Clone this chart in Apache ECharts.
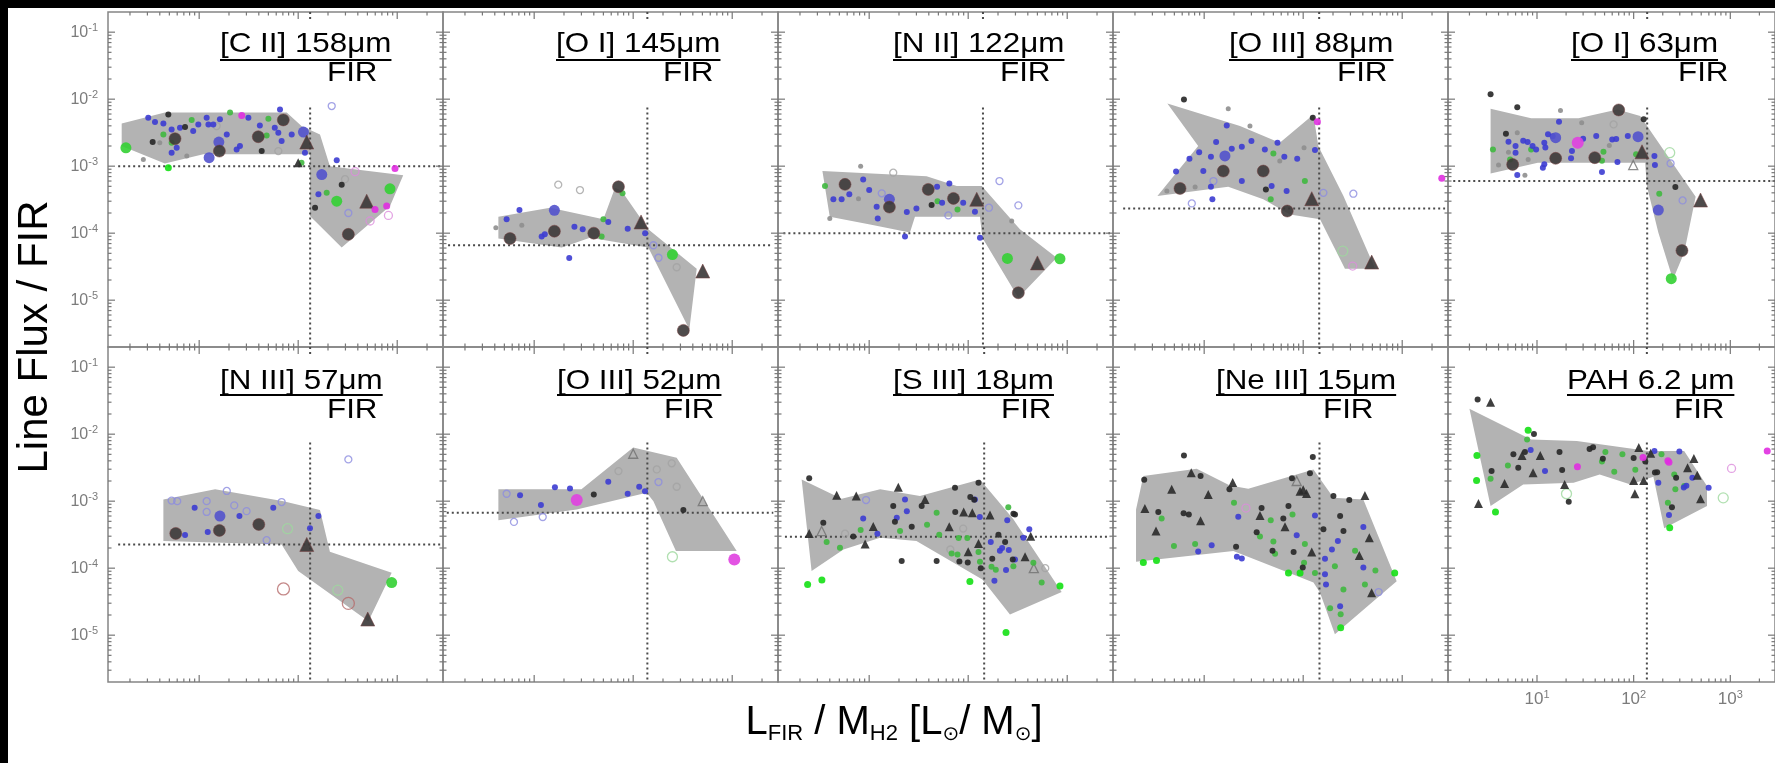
<!DOCTYPE html>
<html><head><meta charset="utf-8">
<script src="https://cdn.jsdelivr.net/npm/echarts@6/dist/echarts.min.js"></script>
<style>
html,body{margin:0;padding:0;background:#000;width:1775px;height:763px;overflow:hidden}
#paper{position:absolute;left:8px;top:8px;width:1767px;height:755px;background:#fff}
#chart{position:absolute;left:0;top:0;width:1775px;height:763px}
</style></head><body><div id="paper"></div><div id="chart"></div>
<script>
// ---------------- DATA ----------------
const panelTitles = ['[C II] 158μm','[O I] 145μm','[N II] 122μm','[O III] 88μm','[O I] 63μm',
                     '[N III] 57μm','[O III] 52μm','[S III] 18μm','[Ne III] 15μm','PAH 6.2 μm'];
const denomLabel = 'FIR';
const xTickValues = [10, 100, 1000];
const yTickValues = [1e-5, 1e-4, 1e-3, 1e-2, 1e-1];
const X_MIN = 1.2, X_MAX = 2900, Y_MIN = 2e-6, Y_MAX = 0.2;

// reference (dotted) lines: vertical x, horizontal y and its x-extent
const refX = [132, 139, 141, 145, 138, 132, 139, 145, 146, 137];
const refVTop = 7.5e-3, refVTopStub = [0.2, 0.145];
const refY = [1e-3, 6.6e-5, 1.0e-4, 2.34e-4, 6.0e-4, 2.26e-4, 6.7e-4, 2.94e-4, null, null];
const refYFrom = [1.52, 1.35, 1.36, 1.52, 1.36, 1.52, 1.31, 1.41, null, null];
const refYTo = [2900, 2580, 2710, 2710, 2900, 2900, 2600, 2710, null, null];

// shaded regions (polygon vertices [x, y])
const ciiShade = [[1.65,4.35e-3],[4.5,6.3e-3],[76.6,6.3e-3],[108,3.96e-3],[166,2.98e-3],[209,1.0e-3],[1150,7.3e-4],[846,2.54e-4],[275,6.1e-5],[131.5,1.8e-4],[131.5,1.5e-3],[11,1.5e-3],[4.5,1.1e-3],[1.65,2.0e-3]];
const oi145Shade = [[4.35,1.76e-4],[14.5,2.4e-4],[50,1.61e-4],[65.5,4.77e-4],[76.5,4.25e-4],[142,1.14e-4],[438,2.94e-5],[369,3.66e-6],[142,6.1e-5],[36.6,8.55e-5],[19,6.1e-5],[4.35,8.3e-5]];
const nii122Shade = [[3.37,8.45e-4],[38,7.1e-4],[76.5,5.05e-4],[137,5.05e-4],[333,1.14e-4],[783,4.3e-5],[321,1.09e-5],[139,8.55e-5],[131.5,1.76e-4],[29,1.76e-4],[25.8,1.02e-4],[10.2,1.35e-4],[4.0,1.76e-4]];
const oiii88Shade = [[4.25,8.65e-3],[23,3.97e-3],[58,2.24e-3],[127,5.9e-3],[142,2.0e-3],[255,3.58e-4],[532,2.94e-5],[264,2.94e-5],[148,1.61e-4],[73.6,1.9e-4],[39.5,3.2e-4],[17.5,4.93e-4],[3.37,3.58e-4],[8.7,2.0e-3]];
const oi63Shade = [[3.31,7.2e-3],[8.7,5.2e-3],[26.9,5.2e-3],[68,7.0e-3],[117,5.6e-3],[438,3.5e-4],[333,5.1e-5],[255,2.04e-5],[180,1.02e-4],[137,5.05e-4],[131.5,1.12e-3],[10.2,1.12e-3],[3.31,7.8e-4]];
const niii57Shade = [[4.35,1.06e-3],[14.5,1.5e-3],[71,1.0e-3],[166,7.4e-4],[209,1.76e-4],[879,8.55e-5],[512,1.62e-5],[100,9.06e-5],[68,2.26e-4],[4.35,2.54e-4]];
const oiii52Shade = [[4.35,1.5e-3],[30,1.5e-3],[100,6.3e-3],[275,4.45e-3],[1110,1.8e-4],[270,1.8e-4],[160,1.0e-3],[137,1.34e-3],[26.9,7.5e-4],[4.35,5.2e-4]];
const siii18Shade = [[2.08,2.11e-3],[5.27,1.09e-3],[12.9,1.5e-3],[32.6,1.19e-3],[131.5,2.11e-3],[286,5.35e-4],[879,4.4e-5],[264,2.04e-5],[139,6.8e-5],[30,2.54e-4],[12.9,2.84e-4],[5.5,1.9e-4],[2.62,9.06e-5]];
const neiii15Shade = [[2.05,7.5e-4],[2.43,2.37e-3],[8.4,3.05e-3],[18.2,1.72e-3],[27.9,1.53e-3],[127,2.98e-3],[202,1.12e-3],[405,1.06e-3],[879,6.4e-5],[209,1.03e-5],[148,4.3e-5],[127,6.1e-5],[19.7,1.8e-4],[2.05,1.25e-4]];
const pah62Shade = [[2.0,2.4e-2],[8.7,8.35e-3],[25.8,7.9e-3],[142,5.6e-3],[333,5.6e-3],[574,1.68e-3],[574,8.45e-4],[207,3.93e-4],[160,2.32e-3],[93,1.78e-3],[44.5,2.51e-3],[23.9,1.88e-3],[7.2,1.78e-3],[3.31,8.45e-4]];

// galaxies [x, y, sample-group]
const ciiPoints = [[1.82,1.88e-3,'G'],[4.88,9.5e-4,'h'],[4.35,2.98e-3,'g'],[8.4,4.9e-3,'g'],[5.27,2.24e-3,'g'],[20.5,6.3e-3,'g'],[50,5.1e-3,'g'],[48,2.88e-3,'g'],[108,1.12e-3,'g'],[245,3.0e-4,'G'],[194,4.0e-4,'g'],[845,4.6e-4,'G'],
[3.06,5.3e-3,'b'],[3.58,4.55e-3,'b'],[4.35,4.35e-3,'b'],[5.27,3.54e-3,'b'],[6.4,3.75e-3,'b'],[5.27,1.59e-3,'b'],[5.93,1.88e-3,'b'],[8.7,3.34e-3,'b'],[9.8,4.2e-3,'b'],[11.9,5.3e-3,'b'],[12.4,4.2e-3,'b'],[13.9,4.2e-3,'b'],[16.2,5.0e-3,'b'],[19,2.98e-3,'b'],[12.6,1.34e-3,'B'],[23.9,1.78e-3,'b'],[25.8,2.0e-3,'b'],[31.4,5.3e-3,'b'],[41,4.06e-3,'b'],[58,3.75e-3,'b'],[63,3.15e-3,'b'],[65.5,7.0e-3,'b'],[68,2.37e-3,'b'],[86,2.98e-3,'b'],[117,1.59e-3,'b'],[15.8,2.29e-3,'B'],[113,3.23e-3,'B'],[173,7.5e-4,'B'],[245,1.23e-3,'b'],[160,3.8e-4,'b'],[218,7.9e-3,'ob'],
[3.39,2.29e-3,'k'],[4.88,5.9e-3,'k'],[5.7,2.57e-3,'K'],[7.2,3.84e-3,'k'],[16,1.68e-3,'K'],[39.5,2.75e-3,'K'],[70.7,4.9e-3,'K'],[42.8,1.68e-3,'k'],[275,5.3e-4,'k'],[148,2.4e-4,'k'],[321,9.6e-5,'K'],
[122,2.29e-3,'T'],[100,1.12e-3,'t'],[492,3.0e-4,'T'],
[2.73,1.26e-3,'e'],[7.5,1.42e-3,'e'],[4.0,2.24e-3,'e'],[63,1.68e-3,'og'],[15,3.97e-3,'og'],[297,6.4e-4,'og'],
[950,9.2e-4,'m'],[597,2.26e-4,'m'],[783,2.54e-4,'m'],[26.9,5.7e-3,'m'],[375,8.3e-4,'om'],[532,1.52e-4,'om'],[815,1.84e-4,'om'],[321,2.0e-4,'ob']];
const oi145Points = [[5.7,8.3e-5,'K'],[16,1.07e-4,'K'],[40,1.0e-4,'K'],[71,4.93e-4,'K'],[321,3.54e-6,'K'],[120,1.47e-4,'T'],[504,2.72e-5,'T'],[16,2.19e-4,'B'],[5.27,1.61e-4,'b'],[7.1,2.21e-4,'b'],[11.9,8.9e-5,'b'],[12.8,9.6e-5,'b'],[25.5,1.25e-4,'b'],[30.9,1.14e-4,'b'],[56,1.47e-4,'b'],[88,1.16e-4,'b'],[132,1.0e-4,'b'],[22.6,4.25e-5,'b'],[50,1.61e-4,'g'],[48,8.9e-5,'g'],[78,3.93e-4,'g'],[249,4.8e-5,'G'],[7.5,1.31e-4,'e'],[4.1,1.2e-4,'e'],[17.5,5.3e-4,'og'],[29,4.4e-4,'og'],[180,4.3e-5,'ob'],[275,3.1e-5,'og'],[160,6.6e-5,'ob']];
const nii122Points = [[39.5,4.5e-4,'K'],[16,2.45e-4,'K'],[71,3.3e-4,'K'],[321,1.29e-5,'K'],[122,3.2e-4,'T'],[500,3.6e-5,'T'],[249,4.2e-5,'G'],[845,4.15e-5,'G'],[49,3.0e-4,'g'],[78,2.26e-4,'g'],[16,3.2e-4,'B'],[23,8.9e-5,'b'],[24,2.07e-4,'b'],[30,2.34e-4,'b'],[48.5,4.93e-4,'b'],[54.5,2.84e-4,'b'],[64.5,5.5e-4,'b'],[89,2.84e-4,'b'],[117,2.09e-4,'b'],[131.5,8.55e-5,'b'],[42.7,2.63e-4,'k'],[275,1.52e-4,'e'],[207,6.0e-4,'ob'],[321,2.6e-4,'ob'],[162,2.4e-4,'ob'],[63,1.84e-4,'ob'],[17.5,8.0e-4,'og'],[3.58,5.05e-4,'g'],[5.7,5.35e-4,'K'],[8.2,1.0e-3,'e'],[8.7,6.35e-4,'b'],[4.35,3.2e-4,'b'],[5.27,3.2e-4,'b'],[6.3,3.8e-4,'b'],[10,4.4e-4,'b'],[11.9,2.48e-4,'b'],[12.2,1.66e-4,'b'],[4.0,1.66e-4,'e'],[7.8,3.27e-4,'e'],[13.4,3.93e-4,'ob']];
const oiii88Points = [[6.25,9.9e-3,'k'],[17.5,7.2e-3,'e'],[29,3.97e-3,'e'],[125,5.3e-3,'k'],[139,4.6e-3,'m'],[5.7,4.66e-4,'K'],[15.6,8.45e-4,'K'],[39.5,8.45e-4,'K'],[69,2.14e-4,'K'],[122,3.27e-4,'T'],[16.2,1.42e-3,'B'],[5.2,8.3e-4,'b'],[7.1,1.29e-3,'b'],[8.9,1.62e-3,'b'],[11.7,1.38e-3,'b'],[13.2,2.29e-3,'b'],[16.9,4.06e-3,'b'],[9.8,8.5e-4,'b'],[11.7,4.93e-4,'b'],[12.1,3.2e-4,'b'],[19,1.82e-3,'b'],[24,1.95e-3,'b'],[30,2.37e-3,'b'],[24,6.0e-4,'b'],[41,1.78e-3,'b'],[55,2.24e-3,'b'],[48,5.05e-4,'b'],[64.5,1.38e-3,'b'],[68,4.25e-4,'b'],[87,1.29e-3,'b'],[131.5,1.74e-3,'b'],[50,1.55e-3,'g'],[104,6.0e-4,'g'],[47,3.2e-4,'g'],[42,4.5e-4,'k'],[8.1,4.9e-4,'e'],[4.2,4.25e-4,'e'],[102,1.88e-3,'e'],[58,1.19e-3,'e'],[12.4,6.0e-4,'ob'],[7.5,2.78e-4,'ob'],[492,3.7e-5,'T'],[316,3.23e-5,'om'],[251,5.4e-5,'oG'],[321,3.88e-4,'ob'],[160,4.0e-4,'ob'],[2510,6.6e-4,'m']];
const oi63Points = [[3.31,1.18e-2,'k'],[6.25,7.6e-3,'k'],[17.5,6.8e-3,'e'],[70,6.9e-3,'K'],[127,5.0e-3,'k'],[62,4.2e-3,'og'],[29,4.45e-3,'e'],[16.9,4.6e-3,'b'],[4.77,3.05e-3,'k'],[6.25,3.15e-3,'e'],[5.07,2.32e-3,'b'],[6.0,2.0e-3,'b'],[6.0,1.58e-3,'b'],[7.2,2.4e-3,'b'],[8.0,2.3e-3,'b'],[9.0,2.0e-3,'b'],[3.5,1.78e-3,'g'],[8.7,1.78e-3,'g'],[5.07,1.62e-3,'e'],[5.6,1.06e-3,'K'],[4.0,1.04e-3,'e'],[6.25,7.4e-4,'b'],[7.5,7.3e-4,'e'],[5.27,1.26e-3,'g'],[11.9,1.07e-3,'b'],[11.5,9.5e-4,'b'],[13.0,3.0e-3,'b'],[14.5,2.8e-3,'b'],[15.6,2.66e-3,'B'],[11.9,2.24e-3,'b'],[12.2,1.9e-3,'b'],[9.8,1.78e-3,'b'],[8.1,1.26e-3,'e'],[15.6,1.31e-3,'K'],[26.4,2.24e-3,'M'],[23,1.68e-3,'b'],[22.5,1.31e-3,'b'],[30,2.57e-3,'b'],[41,2.82e-3,'b'],[39.6,1.34e-3,'K'],[47,8.2e-4,'b'],[48.7,1.64e-3,'g'],[47,1.2e-3,'g'],[60,2.5e-3,'b'],[66,2.55e-3,'b'],[56,2.04e-3,'e'],[68,1.15e-3,'b'],[87,2.81e-3,'b'],[111,2.75e-3,'B'],[122,1.64e-3,'T'],[106,1.5e-3,'g'],[99,1.04e-3,'ot'],[164,1.42e-3,'b'],[166,1.04e-3,'b'],[236,1.59e-3,'oG'],[241,1.1e-3,'ob'],[270,4.9e-4,'k'],[184,3.88e-4,'g'],[321,3.08e-4,'ob'],[180,2.21e-4,'B'],[492,3.12e-4,'T'],[316,5.5e-5,'K'],[245,2.09e-5,'G']];
const niii57Points = [[5.8,3.3e-4,'K'],[16,3.66e-4,'K'],[40,4.5e-4,'K'],[16.2,6.0e-4,'B'],[7.2,3.12e-4,'b'],[9.0,8.0e-4,'b'],[12.2,3.46e-4,'b'],[25.5,6.0e-4,'b'],[56,8.0e-4,'b'],[160,6.0e-4,'b'],[131.5,3.93e-4,'b'],[122,2.26e-4,'T'],[504,1.74e-5,'T'],[879,6.1e-5,'G'],[71,4.9e-5,'or'],[321,2.98e-5,'or'],[251,4.7e-5,'oG'],[321,4.2e-3,'ob'],[5.27,1.02e-3,'ob'],[6.0,1.0e-3,'ob'],[11.9,1.0e-3,'ob'],[11.9,6.9e-4,'ob'],[19,1.42e-3,'ob'],[22.6,8.65e-4,'ob'],[30.1,7.1e-4,'ob'],[68,9.7e-4,'ob'],[48,2.62e-4,'ob'],[78,3.88e-4,'oG']];
const oiii52Points = [[26.9,1.04e-3,'M'],[1050,1.35e-4,'M'],[7.2,1.23e-3,'b'],[11.7,8.75e-4,'b'],[16.2,1.62e-3,'b'],[23,1.55e-3,'b'],[56,1.95e-3,'b'],[88,1.29e-3,'b'],[115,1.64e-3,'b'],[131.5,1.41e-3,'b'],[40,1.26e-3,'k'],[321,7.4e-4,'k'],[5.27,1.29e-3,'ob'],[6.25,4.9e-4,'ob'],[12.2,5.8e-4,'ob'],[180,1.93e-3,'ob'],[173,2.98e-3,'og'],[245,3.67e-3,'og'],[275,1.64e-3,'og'],[71,2.81e-3,'og'],[100,5.1e-3,'ot'],[504,1.0e-3,'ot'],[249,1.48e-4,'oG']];
const siii18Points = [[19.7,1.62e-3,'t'],[36.6,1.06e-3,'t'],[73.6,1.59e-3,'k'],[127,1.89e-3,'k'],[105,1.15e-3,'k'],[115,1.05e-3,'k'],[74,6.9e-4,'k'],[90,6.9e-4,'t'],[110,6.7e-4,'t'],[17.5,8.45e-4,'k'],[18.2,4.93e-4,'k'],[26.9,4.15e-4,'k'],[33.9,8.45e-4,'k'],[21.3,1.28e-4,'k'],[48,1.28e-4,'k'],[81.5,1.26e-4,'k'],[99,1.22e-4,'k'],[64.4,4.15e-4,'t'],[166,6.2e-4,'t'],[127,2.34e-4,'t'],[100,1.76e-4,'t'],[202,3.16e-4,'k'],[236,2.45e-4,'k'],[297,6.35e-4,'k'],[428,3.0e-4,'t'],[375,1.48e-4,'t'],[282,1.35e-4,'k'],[175,1.38e-4,'k'],[134,1.0e-4,'k'],
[23,1.06e-3,'b'],[24,7.1e-4,'b'],[19,5.65e-4,'b'],[117,1.06e-3,'b'],[131,5.8e-4,'b'],[169,2.45e-4,'b'],[209,1.82e-4,'b'],[220,2.0e-4,'b'],[248,5.2e-4,'b'],[257,1.86e-4,'b'],[297,1.35e-4,'b'],[414,3.8e-4,'b'],[361,2.84e-4,'b'],[241,9.4e-5,'b'],[184,6.5e-5,'b'],
[48,6.7e-4,'g'],[38.4,4.45e-4,'g'],[20.5,3.6e-4,'g'],[51,3.15e-4,'g'],[80,2.81e-4,'g'],[98,2.81e-4,'g'],[68,1.66e-4,'g'],[78,1.6e-4,'g'],[127,1.74e-4,'g'],[131.5,1.25e-4,'g'],[172,1.05e-4,'g'],[190,9.5e-5,'g'],[104,6.3e-5,'h'],[254,8.1e-4,'g'],[286,1.07e-4,'g'],[455,1.2e-4,'g'],[552,6.1e-5,'g'],[845,5.4e-5,'h'],[241,1.1e-5,'h'],[286,6.5e-4,'k'],
[2.48,2.19e-3,'k'],[4.7,1.23e-3,'t'],[7.4,1.19e-3,'t'],[3.44,4.77e-4,'k'],[2.48,3.3e-4,'t'],[3.31,3.58e-4,'ot'],[6.9,2.97e-4,'k'],[11,4.2e-4,'t'],[9.1,2.29e-4,'t'],[8.7,5.5e-4,'b'],[12.1,3.27e-4,'b'],[8.2,3.7e-4,'g'],[3.72,2.45e-4,'g'],[5.07,2.01e-4,'g'],[2.39,5.7e-5,'h'],[3.33,6.65e-5,'h'],[9.3,1.04e-3,'ob'],[5.7,3.27e-4,'og'],[89,3.9e-4,'og'],[66,1.9e-4,'og'],[600,1.0e-4,'og'],[460,1.0e-4,'ot']];
const neiii15Points = [[6.25,4.8e-3,'k'],[2.48,2.09e-3,'k'],[2.52,7.8e-4,'t'],[3.44,6.9e-4,'k'],[3.26,3.58e-4,'t'],[4.7,1.5e-3,'t'],[7.4,2.66e-3,'t'],[9.2,2.37e-3,'k'],[7.0,6.3e-4,'k'],[6.2,6.6e-4,'k'],[9.2,5.1e-4,'t'],[11,1.26e-3,'t'],[19.4,1.9e-3,'t'],[18,1.5e-3,'k'],[21,2.09e-4,'k'],[33.9,3.45e-4,'k'],[36.6,6.1e-4,'t'],[38,7.9e-4,'k'],[49,1.82e-4,'k'],[63,5.5e-4,'k'],[65.5,4.15e-4,'t'],[71,8.45e-4,'k'],[77,2.19e-3,'k'],[93,1.41e-3,'t'],[100,1.48e-3,'t'],[108,1.3e-3,'t'],[117,2.6e-3,'k'],[125,4.55e-3,'k'],[122,1.74e-4,'t'],[80,1.74e-4,'k'],[99,1.02e-4,'k'],[160,3.8e-4,'k'],
[20,9.5e-4,'g'],[3.72,5.5e-4,'g'],[4.95,2.14e-4,'g'],[8.1,2.29e-4,'g'],[36.6,2.98e-4,'g'],[50,2.51e-4,'g'],[47,5.2e-4,'g'],[78,6.3e-4,'g'],[52,1.64e-4,'g'],[104,2.3e-4,'g'],[102,1.2e-4,'g'],[131.5,8.45e-5,'g'],[71,8.45e-5,'h'],[93,8.45e-5,'h'],[2.43,1.22e-4,'h'],[3.3,1.3e-4,'h'],
[8.7,1.78e-4,'b'],[11.9,2.19e-4,'b'],[21.4,1.48e-4,'b'],[24,1.4e-4,'b'],[22.1,5.85e-4,'b'],[86,3.11e-4,'b'],[131.5,6.1e-4,'b'],[166,1.38e-4,'b'],[86,2.0e-3,'ot'],[26.4,7.9e-4,'om'],
[202,1.19e-3,'k'],[292,1.04e-3,'k'],[420,1.22e-3,'t'],[465,2.84e-4,'t'],[369,1.55e-4,'t'],[491,4.3e-5,'t'],[236,6.0e-4,'k'],[255,3.58e-4,'k'],
[405,4.1e-4,'b'],[405,1.02e-4,'b'],[236,2.7e-5,'b'],[224,2.54e-4,'b'],[195,1.9e-4,'b'],[166,8.1e-5,'b'],[170,5.7e-5,'b'],
[334,1.82e-4,'g'],[536,9.2e-5,'g'],[840,8.45e-5,'h'],[239,2.06e-5,'g'],[239,1.29e-5,'h'],[187,2.53e-5,'g'],[209,1.07e-4,'g'],[255,4.8e-5,'g'],[420,5.7e-5,'g'],[578,4.4e-5,'ob']];
const pah62Points = [[2.43,3.3e-2,'k'],[3.31,3.0e-2,'t'],[8.1,1.14e-2,'h'],[9.3,1.01e-2,'k'],[7.9,8.35e-3,'g'],[2.39,4.8e-3,'h'],[2.37,2.04e-3,'h'],[3.31,2.16e-3,'g'],[3.39,2.81e-3,'k'],[2.48,9.2e-4,'t'],[3.72,6.9e-4,'h'],[4.62,1.84e-3,'t'],[5.0,3.42e-3,'g'],[5.7,5.0e-3,'k'],[6.4,3.15e-3,'k'],[7.0,4.8e-3,'t'],[7.5,5.4e-3,'k'],[8.6,5.8e-3,'b'],[9.1,2.65e-3,'t'],[10.8,4.8e-3,'t'],[12.1,2.81e-3,'b'],[17.1,5.4e-3,'k'],[18.2,2.91e-3,'k'],[19.3,1.78e-3,'t'],[21.3,9.8e-4,'k'],[20.2,1.29e-3,'oG'],[26.2,3.27e-3,'m'],[35,6.0e-3,'k'],[38,6.4e-3,'k'],[48,4.3e-3,'k'],[47,3.9e-3,'g'],[51,5.4e-3,'g'],[63,2.75e-3,'g'],[76.5,5.0e-3,'g'],[100,4.4e-3,'k'],[104,2.95e-3,'g'],[113,6.3e-3,'t'],[103,1.29e-3,'t'],[100,2.04e-3,'t'],[127,2.04e-3,'t'],[132,3.9e-3,'k'],[125,4.5e-3,'m'],[164,5.6e-3,'b'],[150,5.2e-3,'t'],[194,5.0e-3,'g'],[226,4.0e-3,'m'],[232,3.8e-3,'m'],[297,5.5e-3,'b'],[420,4.35e-3,'t'],[180,1.88e-3,'b'],[166,2.69e-3,'k'],[175,2.7e-3,'k'],[263,2.5e-3,'g'],[270,1.5e-3,'g'],[275,2.24e-3,'k'],[361,3.15e-3,'t'],[351,1.7e-3,'b'],[330,1.6e-3,'b'],[405,2.24e-3,'b'],[455,2.43e-3,'t'],[597,1.59e-3,'b'],[492,1.09e-3,'t'],[334,1.68e-3,'g'],[226,9.5e-4,'g'],[249,8.1e-4,'k'],[232,6.2e-4,'b'],[236,4.0e-4,'h'],[1030,3.08e-3,'om'],[845,1.12e-3,'oG'],[2410,5.6e-3,'m']];

const panelShades = [ciiShade, oi145Shade, nii122Shade, oiii88Shade, oi63Shade, niii57Shade, oiii52Shade, siii18Shade, neiii15Shade, pah62Shade];
const panelPoints = [ciiPoints, oi145Points, nii122Points, oiii88Points, oi63Points, niii57Points, oiii52Points, siii18Points, neiii15Points, pah62Points];

// ---------------- LAYOUT & STYLE ----------------
const GRID_LEFT0 = 108, GRID_STEP = 335, GRID_SIZE = 335, GRID_TOPS = [12, 347];
const TITLE_DX = [112, 113, 115, 116, 123, 112, 114, 115, 103, 119];
const FIR_DX = [219, 220, 222, 224, 230, 219, 221, 223, 210, 226];
const TITLE_DY = [32, 34], FIR_DY = [61, 63], ULINE_DY = [48, 48];
const TITLE_FONT = '28px "Liberation Sans", Arial, sans-serif', TITLE_SCALE = 1.12;
const GREY = '#7c7c7c';

const GROUP_ORDER = ['e','og','ob','om','oG','or','ot','g','h','b','B','G','k','K','t','T','m','M'];
const GROUP_STYLE = {
  e:{symbol:'circle',size:5,fill:'#8e8e8e'},
  og:{symbol:'circle',size:7,open:'#a2a2a2'},
  ob:{symbol:'circle',size:7,open:'#8c8ce0'},
  om:{symbol:'circle',size:8,open:'#dc8cdc'},
  oG:{symbol:'circle',size:10,open:'#9ed89e'},
  or:{symbol:'circle',size:12,open:'#b56a6a'},
  ot:{symbol:'triangle',size:9,open:'#707070'},
  g:{symbol:'circle',size:6,fill:'#3fb83f'},
  h:{symbol:'circle',size:7,fill:'#14e014'},
  b:{symbol:'circle',size:6,fill:'#3c3cd2'},
  B:{symbol:'circle',size:11,fill:'#5252cc'},
  G:{symbol:'circle',size:11,fill:'#33d033'},
  k:{symbol:'circle',size:6,fill:'#262626'},
  K:{symbol:'circle',size:12,fill:'#3c3939',border:'rgba(120,60,60,0.55)'},
  t:{symbol:'triangle',size:9,fill:'#2a2a2a'},
  T:{symbol:'triangle',size:14,fill:'#3a3636',border:'rgba(120,60,60,0.55)'},
  m:{symbol:'circle',size:7,fill:'#e02ee0'},
  M:{symbol:'circle',size:12,fill:'#e040e0'}
};

function isDecade(v){ const l = Math.log10(v); return Math.abs(l - Math.round(l)) < 1e-6; }

const chart = echarts.init(document.getElementById('chart'), null, {renderer:'canvas'});
const grids = [], xAxes = [], yAxes = [], series = [], graphics = [];
const mctx = document.createElement('canvas').getContext('2d');
mctx.font = TITLE_FONT;

for (let i = 0; i < 10; i++) {
  const row = i < 5 ? 0 : 1, col = i % 5;
  const left = GRID_LEFT0 + GRID_STEP * col, top = GRID_TOPS[row];
  grids.push({left, top, width: GRID_SIZE, height: GRID_SIZE, show: true,
    borderColor: '#858585', borderWidth: 1.5, backgroundColor: 'transparent'});
  xAxes.push({type:'log', logBase:10, gridIndex:i, min:X_MIN, max:X_MAX,
    axisLine:{show:false}, axisTick:{show:false}, splitLine:{show:false},
    axisLabel:{show: i === 9, showMinLabel:false, showMaxLabel:false, margin:7,
      formatter: v => (isDecade(v) && xTickValues.some(t => Math.abs(t - v) / t < 1e-6)) ? '{b|10}{s|' + Math.round(Math.log10(v)) + '}' : '',
      rich:{b:{fontSize:17, color:GREY, fontFamily:'Liberation Sans', lineHeight:20},
            s:{fontSize:11, color:GREY, fontFamily:'Liberation Sans', lineHeight:12, verticalAlign:'top'}}}});
  yAxes.push({type:'log', logBase:10, gridIndex:i, min:Y_MIN, max:Y_MAX,
    axisLine:{show:false}, axisTick:{show:false}, splitLine:{show:false},
    axisLabel:{show: col === 0, showMinLabel:false, showMaxLabel:false, margin:10,
      formatter: v => (isDecade(v) && yTickValues.some(t => Math.abs(t - v) / t < 1e-6)) ? '{b|10}{s|' + Math.round(Math.log10(v)) + '}' : '',
      rich:{b:{fontSize:16, color:GREY, fontFamily:'Liberation Sans', lineHeight:20},
            s:{fontSize:11, color:GREY, fontFamily:'Liberation Sans', lineHeight:12, verticalAlign:'top'}}}});

  // shaded region
  const shade = panelShades[i];
  series.push({type:'custom', xAxisIndex:i, yAxisIndex:i, data: shade, z:1, silent:true,
    encode:{x:0, y:1},
    renderItem: (params, api) => {
      if (params.dataIndex !== 0) return null;
      return {type:'polygon', shape:{points: shade.map(p => api.coord(p))}, style:{fill:'#b3b3b3'}};
    }});

  // axis ticks (log minor ticks on all four sides)
  series.push({type:'custom', xAxisIndex:i, yAxisIndex:i, data:[[X_MIN, Y_MIN]], z:5, silent:true,
    encode:{x:0, y:1},
    renderItem: (params, api) => {
      const a = api.coord([X_MIN, Y_MIN]), b = api.coord([X_MAX, Y_MAX]);
      const L = a[0], B = a[1], R = b[0], T = b[1];
      const ch = [];
      const ln = (x1,y1,x2,y2) => ch.push({type:'line', shape:{x1,y1,x2,y2}, style:{stroke:'#777', lineWidth:1.2}});
      for (let k = -1; k <= 4; k++) for (let m = 1; m <= 9; m++) {
        const v = m * Math.pow(10, k);
        if (v <= X_MIN || v >= X_MAX) continue;
        const px = api.coord([v, Y_MIN])[0], len = m === 1 ? 7 : 3.5;
        ln(px, B, px, B - len); ln(px, T, px, T + len);
      }
      for (let k = -7; k <= 0; k++) for (let m = 1; m <= 9; m++) {
        const v = m * Math.pow(10, k);
        if (v <= Y_MIN || v >= Y_MAX) continue;
        const py = api.coord([X_MIN, v])[1], len = m === 1 ? 7 : 3.5;
        ln(L, py, L + len, py); ln(R, py, R - len, py);
      }
      return {type:'group', children: ch};
    }});

  // dotted reference lines
  const dotted = {color:'#4a4a4a', width:2, type:[2, 3]};
  series.push({type:'line', xAxisIndex:i, yAxisIndex:i, data:[[refX[i], refVTop],[refX[i], Y_MIN]], symbol:'none', silent:true, z:2, lineStyle:dotted, animation:false});
  series.push({type:'line', xAxisIndex:i, yAxisIndex:i, data:[[refX[i], refVTopStub[0]],[refX[i], refVTopStub[1]]], symbol:'none', silent:true, z:2, lineStyle:dotted, animation:false});
  if (refY[i] !== null) {
    series.push({type:'line', xAxisIndex:i, yAxisIndex:i, data:[[refYFrom[i], refY[i]],[refYTo[i], refY[i]]], symbol:'none', silent:true, z:2, lineStyle:dotted, animation:false});
  }

  // galaxies
  const pts = panelPoints[i];
  GROUP_ORDER.forEach(g => {
    const d = pts.filter(p => p[2] === g).map(p => [p[0], p[1]]);
    if (!d.length) return;
    const st = GROUP_STYLE[g];
    const itemStyle = st.open
      ? {color:'rgba(0,0,0,0)', borderColor: st.open, borderWidth: 1.3}
      : {color: st.fill, opacity: 0.9, borderColor: st.border || 'rgba(0,0,0,0)', borderWidth: st.border ? 1 : 0};
    series.push({type:'scatter', xAxisIndex:i, yAxisIndex:i, data:d, symbol: st.symbol, symbolSize: st.size,
      itemStyle, z:3, silent:true, animation:false});
  });

  // panel label: line / FIR
  const tx = left + TITLE_DX[i], ty = top + TITLE_DY[row];
  const w = mctx.measureText(panelTitles[i]).width * TITLE_SCALE;
  graphics.push({type:'text', x: tx, y: ty, scaleX: TITLE_SCALE, z:10,
    style:{text: panelTitles[i], font: TITLE_FONT, fill:'#000', align:'left', verticalAlign:'middle'}});
  graphics.push({type:'line', z:10, shape:{x1: tx, y1: top + ULINE_DY[row], x2: tx + w, y2: top + ULINE_DY[row]},
    style:{stroke:'#000', lineWidth:2}});
  graphics.push({type:'text', x: left + FIR_DX[i], y: top + FIR_DY[row], scaleX: TITLE_SCALE, z:10,
    style:{text: denomLabel, font: TITLE_FONT, fill:'#000', align:'left', verticalAlign:'middle'}});
}

// axis titles
graphics.push({type:'text', x:35, y:337, rotation: Math.PI/2, z:10,
  style:{text:'Line Flux / FIR', font:'42px "Liberation Sans", Arial, sans-serif', fill:'#000', align:'center', verticalAlign:'middle'}});
graphics.push({type:'text', x:894, y:723, z:10,
  style:{text:'{a|L}{s|FIR}{a| / M}{s|H2}{a| [L}{o|⊙}{a|/ M}{o|⊙}{a|]}', align:'center', verticalAlign:'middle',
    rich:{a:{font:'40px "Liberation Sans", Arial, sans-serif', fill:'#000', lineHeight:44},
          s:{font:'22px "Liberation Sans", Arial, sans-serif', fill:'#000', lineHeight:14, verticalAlign:'bottom'},
          o:{font:'20px "DejaVu Sans", sans-serif', fill:'#000', lineHeight:14, verticalAlign:'bottom'}}}});

chart.setOption({animation:false, grid: grids, xAxis: xAxes, yAxis: yAxes, series, graphic: graphics});
</script></body></html>
